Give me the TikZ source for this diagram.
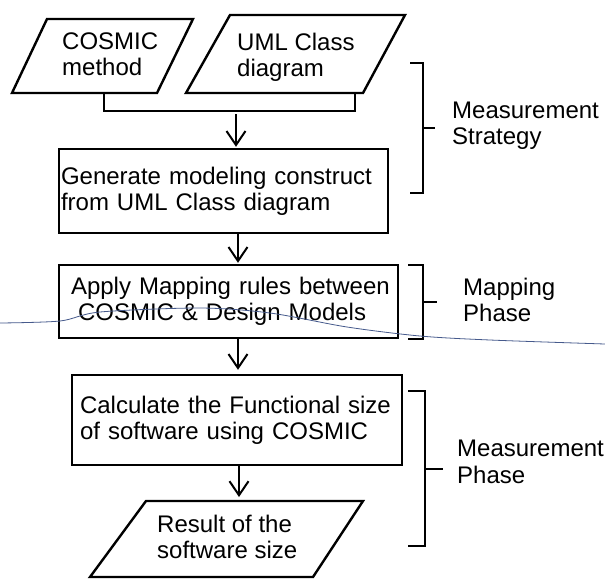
\documentclass[tikz,border=0pt]{standalone}
\usepackage{fontspec}
\setmainfont{Liberation Sans}
\usetikzlibrary{arrows.meta}
\definecolor{inkline}{RGB}{70,90,140}
\begin{document}
\begin{tikzpicture}[x=1pt,y=-1pt,
  every node/.style={font=\fontsize{24}{26}\selectfont},
  shapeline/.style={line width=2.4pt, line join=miter},
  box/.style={draw, line width=2.4pt, align=left, inner ysep=0pt},
  lbl/.style={anchor=north west, inner sep=0pt, align=left},
  flow/.style={line width=2pt, -{Straight Barb[length=14pt,width=19pt,line width=2pt]}},
  brk/.style={line width=2pt},
  inky/.style={draw=inkline, line width=0.8pt}]
\useasboundingbox[fill=white] (0,0) rectangle (605,579);

% input parallelograms
\draw[shapeline] (12,93) -- (47,19) -- (193,19) -- (157,93) -- cycle;
\draw[shapeline] (186,93) -- (230,15) -- (405,15) -- (363,93) -- cycle;
\node[lbl] (cosmic) at (62,33) {COSMIC\\method};
\node[lbl] (uml) at (237,33) {UML Class\\diagram};
\coordinate (p1b) at (104,93);
\coordinate (p2b) at (355,93);
\coordinate (jn) at (236,111);

% process boxes
\node[box, minimum width=329pt, minimum height=84pt, text width=325pt, inner xsep=2pt] (b1) at (223.5,191)
  {Generate modeling construct\\from UML Class diagram};
\node[box, minimum width=339pt, minimum height=73pt, text width=327pt, inner xsep=6pt] (b2) at (228.5,301.5)
  {\hspace*{6pt}Apply Mapping rules between\\\hspace*{13pt}COSMIC \& Design Models};
\node[box, minimum width=330pt, minimum height=90pt, text width=318pt, inner xsep=6pt] (b3) at (237,420)
  {\hspace*{2pt}Calculate the Functional size\\\hspace*{2pt}of software using COSMIC};

% output parallelogram
\draw[shapeline] (90,577) -- (146,501) -- (363,501) -- (313,577) -- cycle;
\node[lbl] (result) at (157,515) {Result of the\\software size};
\coordinate (p3t) at (239,501);

% connectors
\coordinate (ax) at (238,0);
\draw[brk] (p1b) |- (jn) -| (p2b);
\draw[flow, shorten <=3pt, shorten >=1pt] (jn) -- (b1.north -| jn);
\draw[flow, shorten >=1pt] (b1.south -| ax) -- (b2.north -| ax);
\draw[flow, shorten >=4pt] (b2.south -| ax) -- (b3.north -| ax);
\draw[flow, shorten >=4pt] (b3.south -| p3t) -- (p3t);

% brackets and phase labels
\draw[brk] (410,63) -- (423,63) -- (423,193) -- (410,193);
\draw[brk] (423,128) -- (435,128);
\node[lbl] (strategy) at (452,102) {Measurement\\Strategy};

\draw[brk] (408,265) -- (423,265) -- (423,339) -- (408,339);
\draw[brk] (423,302) -- (437,302);
\node[lbl] (mapping) at (463,278) {Mapping\\Phase};

\draw[brk] (408,391) -- (425,391) -- (425,546) -- (408,546);
\draw[brk] (425,469) -- (443,469);
\node[lbl, font=\fontsize{24}{27}\selectfont] (mphase) at (457,440) {Measurement\\Phase};

% stray pen line
\draw[inky] plot[smooth] coordinates {(0,323) (60,321) (100,312) (200,308) (270,313) (347,327) (420,336) (490,340) (605,344)};
\end{tikzpicture}
\end{document}
